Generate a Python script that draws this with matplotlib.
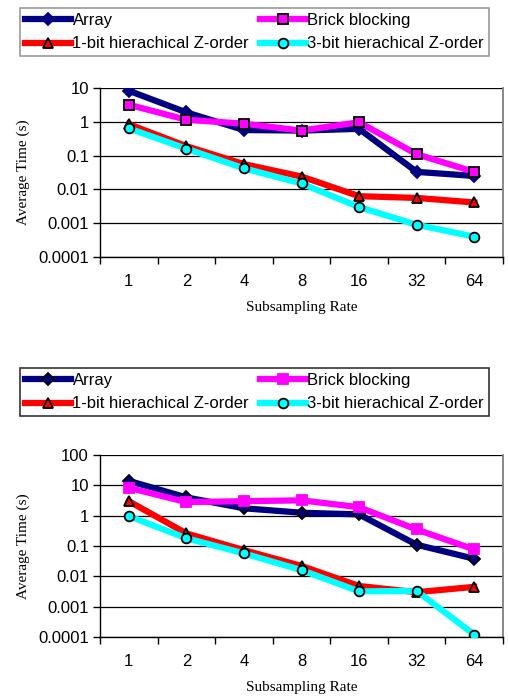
import matplotlib
matplotlib.use("Agg")
import matplotlib.pyplot as plt
from matplotlib.ticker import FixedLocator, FixedFormatter

rates = ["1", "2", "4", "8", "16", "32", "64"]
series_names = ["Array", "Brick blocking", "1-bit hierachical Z-order", "3-bit hierachical Z-order"]

top_array = [8.3, 1.9, 0.57, 0.55, 0.62, 0.033, 0.025]
top_brick = [3.2, 1.15, 0.88, 0.55, 0.97, 0.11, 0.033]
top_1bit = [0.85, 0.19, 0.056, 0.024, 0.0063, 0.0056, 0.0041]
top_3bit = [0.64, 0.16, 0.042, 0.015, 0.003, 0.0009, 0.0004]

bot_array = [14, 4.0, 1.75, 1.25, 1.1, 0.11, 0.038]
bot_brick = [8.3, 2.8, 3.0, 3.2, 1.9, 0.35, 0.077]
bot_1bit = [3.0, 0.26, 0.073, 0.022, 0.0048, 0.003, 0.0045]
bot_3bit = [0.97, 0.18, 0.057, 0.016, 0.0032, 0.0033, 0.00012]

colors = ["#000080", "#FF00FF", "#FF0000", "#00FFFF"]
W, H = 508, 698
fig = plt.figure(figsize=(W / 100, H / 100), dpi=100)

TICKFONT = "Liberation Sans"
LABFONT = "Liberation Serif"
FS = 12

def make_axes(rect, data, ylims, yticks, ylabels, top_style):
    ax = fig.add_axes(rect)
    x = list(range(len(rates)))
    handles = []
    for i, (vals, c) in enumerate(zip(data, colors)):
        if i == 0:
            mk, mec, ms = "D", (c if top_style else "black"), 6
        elif i == 1:
            mk, mec, ms = "s", ("black" if top_style else c), 7
        elif i == 2:
            mk, mec, ms = "^", "black", 7
        else:
            mk, mec, ms = "o", "black", 7
        h, = ax.plot(x, vals, color=c, lw=4.5, marker=mk, ms=ms, mfc=c,
                     mec=mec, mew=1.3, label=series_names[i], zorder=3 + i * 0.1)
        handles.append(h)
    ax.set_yscale("log")
    ax.set_ylim(*ylims)
    ax.set_xlim(-0.5, len(rates) - 0.5)
    ax.yaxis.set_major_locator(FixedLocator(yticks))
    ax.yaxis.set_major_formatter(FixedFormatter(ylabels))
    ax.yaxis.set_minor_locator(FixedLocator([]))
    ax.set_xticks(x)
    ax.set_xticklabels(rates)
    ax.set_xticks([i - 0.5 for i in range(len(rates) + 1)], minor=True)
    ax.tick_params(axis="x", which="major", length=0, pad=12)
    ax.tick_params(axis="x", which="minor", length=5, width=1, direction="out")
    ax.tick_params(axis="y", which="major", length=5, width=1, direction="out", pad=3)
    for lab in ax.get_xticklabels() + ax.get_yticklabels():
        lab.set_fontfamily(TICKFONT)
        lab.set_fontsize(FS)
    ax.grid(axis="y", which="major", color="black", lw=0.9, zorder=1)
    ax.set_axisbelow(True)
    ax.spines["top"].set_visible(False)
    ax.spines["right"].set_color("#808080")
    ax.spines["right"].set_linewidth(1.3)
    ax.spines["left"].set_linewidth(1.0)
    ax.spines["bottom"].set_linewidth(1.0)
    ax.set_xlabel("Subsampling Rate", fontfamily=LABFONT, fontsize=11, labelpad=9)
    ax.set_ylabel("Average Time (s)", fontfamily=LABFONT, fontsize=11, labelpad=6)
    return ax, handles

def add_legend(handles, top_px, bottom_px, edge):
    order = [0, 2, 1, 3]
    hs = [handles[i] for i in order]
    ls = [series_names[i] for i in order]
    leg = fig.legend(hs, ls, loc="upper left",
                     bbox_to_anchor=(20 / W, 1 - bottom_px / H, 469 / W, (bottom_px - top_px) / H),
                     mode="expand", ncol=2, frameon=True, fancybox=False,
                     borderaxespad=0, borderpad=0.3, handlelength=2.75,
                     handletextpad=0.1, columnspacing=0.3, labelspacing=0.5,
                     numpoints=1, prop={"family": TICKFONT, "size": FS})
    fr = leg.get_frame()
    fr.set_edgecolor(edge)
    fr.set_linewidth(1.2)
    fr.set_facecolor("white")
    return leg

ax1, h1 = make_axes([100 / W, 1 - 257 / H, 403 / W, 169 / H],
                    [top_array, top_brick, top_1bit, top_3bit],
                    (1e-4, 10), [1e-4, 1e-3, 1e-2, 1e-1, 1, 10],
                    ["0.0001", "0.001", "0.01", "0.1", "1", "10"], True)
add_legend(h1, 8, 58, "#808080")

ax2, h2 = make_axes([100 / W, 1 - 637 / H, 403 / W, 182 / H],
                    [bot_array, bot_brick, bot_1bit, bot_3bit],
                    (1e-4, 100), [1e-4, 1e-3, 1e-2, 1e-1, 1, 10, 100],
                    ["0.0001", "0.001", "0.01", "0.1", "1", "10", "100"], False)
add_legend(h2, 368, 422, "black")

fig.savefig("out.png", dpi=100, facecolor="white")
